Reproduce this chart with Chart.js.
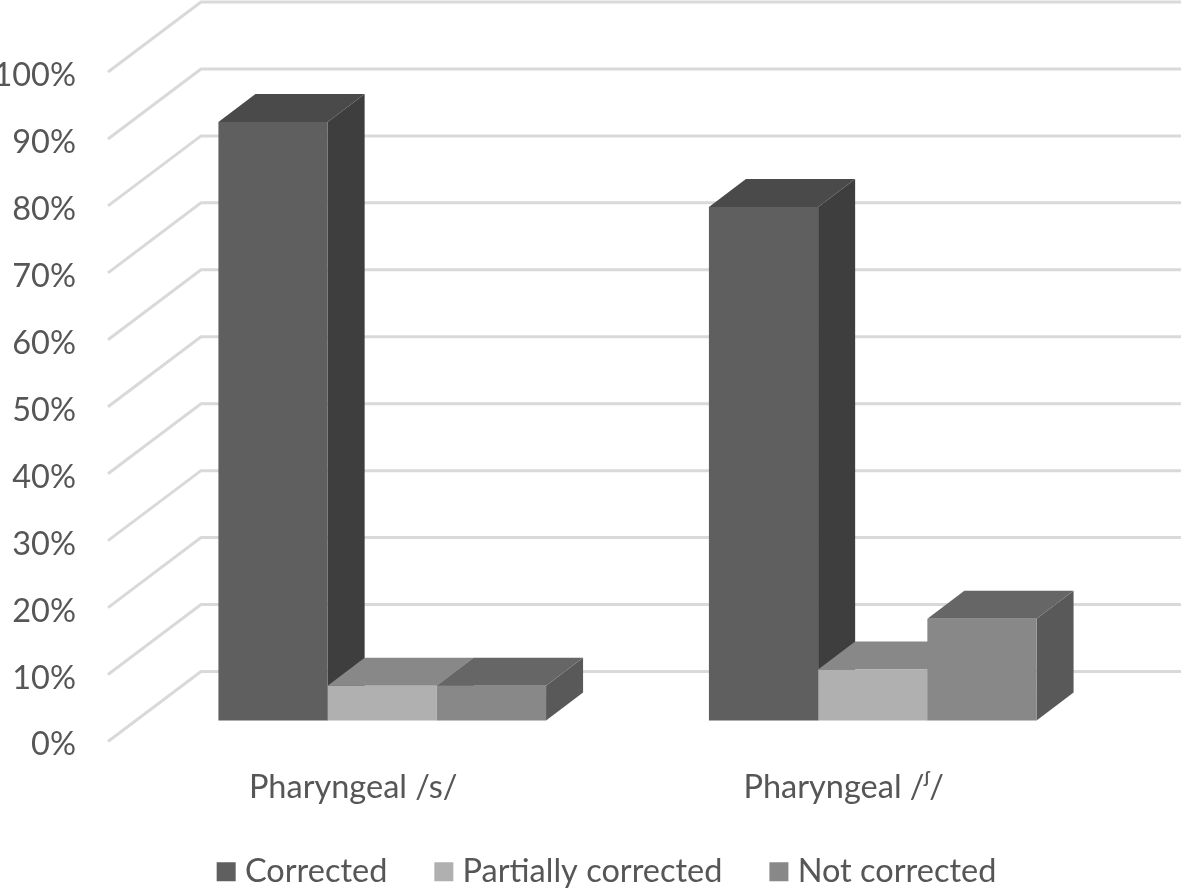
<!DOCTYPE html>
<html>
<head>
<meta charset="utf-8">
<title>Pharyngeal correction</title>
<script src="https://cdn.jsdelivr.net/npm/chart.js@4"></script>
<style>
    html, body { margin: 0; padding: 0; background: #fff; overflow: hidden; }
    canvas { display: block; }
</style>
</head>
<body>
<canvas id="chart" width="1181" height="888"></canvas>
<script>
const categories = ['Pharyngeal /s/', 'Pharyngeal /\u1DB4/'];
const seriesNames = ['Corrected', 'Partially corrected', 'Not corrected'];
const corrected = [89.4, 76.7];
const partiallyCorrected = [5.2, 7.6];
const notCorrected = [5.2, 15.2];
const wallTicks = [0, 10, 20, 30, 40, 50, 60, 70, 80, 90, 100];

const frontColors = ['#5f5f5f', '#b0b0b0', '#888888'];
const topColors = ['#4a4a4a', '#888888', '#666666'];
const sideColors = ['#3e3e3e', '#777777', '#595959'];
const textColor = '#565656';
const fontFamily = "Lato, 'DejaVu Sans', sans-serif";
const fontSize = 32.5;

// the 3D look: bars and walls are pushed back by these offsets
const barDepth = { x: 37, y: 28 };
const wallDepth = { x: 93, y: 70 };
// tick labels sit a little lower than the line they belong to
const labelDrop = 3.5;

const threeD = {
    id: 'threeD',
    afterLayout(chart) {
        // legend is off centre in the original and overlaps the x axis box
        chart.legend.left += 51;
        chart.legend.right += 51;
        chart.legend.top -= 10;
        chart.legend.bottom -= 10;
    },
    beforeDatasetsDraw(chart) {
        const ctx = chart.ctx;
        const wall = chart.scales.wall;

        // gridlines on floor edge + back wall
        ctx.save();
        ctx.strokeStyle = '#d9d9d9';
        ctx.lineWidth = 3;
        wallTicks.forEach(tick => {
            const y = wall.getPixelForValue(tick) - labelDrop;
            const left = wall.right - 29;
            ctx.beginPath();
            ctx.moveTo(left, y);
            ctx.lineTo(left + wallDepth.x, y - wallDepth.y);
            ctx.lineTo(chart.width, y - wallDepth.y);
            ctx.stroke();
        });

        // top and side faces, the fronts are drawn by the bar elements after this
        chart.data.datasets.forEach((dataset, i) => {
            chart.getDatasetMeta(i).data.forEach(bar => {
                const x0 = bar.x - bar.width / 2;
                const x1 = bar.x + bar.width / 2;
                ctx.fillStyle = sideColors[i];
                ctx.beginPath();
                ctx.moveTo(x1, bar.y);
                ctx.lineTo(x1 + barDepth.x, bar.y - barDepth.y);
                ctx.lineTo(x1 + barDepth.x, bar.base - barDepth.y);
                ctx.lineTo(x1, bar.base);
                ctx.closePath();
                ctx.fill();

                ctx.fillStyle = topColors[i];
                ctx.beginPath();
                ctx.moveTo(x0, bar.y);
                ctx.lineTo(x0 + barDepth.x, bar.y - barDepth.y);
                ctx.lineTo(x1 + barDepth.x, bar.y - barDepth.y);
                ctx.lineTo(x1, bar.y);
                ctx.closePath();
                ctx.fill();
            });
        });
        ctx.restore();
    }
};

new Chart(document.getElementById('chart'), {
    type: 'bar',
    data: {
        labels: categories,
        datasets: [
            { label: seriesNames[0], data: corrected, backgroundColor: frontColors[0] },
            { label: seriesNames[1], data: partiallyCorrected, backgroundColor: frontColors[1] },
            { label: seriesNames[2], data: notCorrected, backgroundColor: frontColors[2] }
        ]
    },
    plugins: [threeD],
    options: {
        responsive: false,
        animation: false,
        layout: { padding: { left: 0, right: 63, top: 2, bottom: -20 } },
        datasets: { bar: { categoryPercentage: 0.668, barPercentage: 1 } },
        scales: {
            x: {
                grid: { display: false },
                border: { display: false },
                ticks: {
                    color: textColor,
                    font: { family: fontFamily, size: fontSize },
                    padding: 19,
                    labelOffset: -29,
                    maxRotation: 0
                },
                afterFit(scale) { scale.height = 70; }
            },
            // bars stand on a plane in front of the wall scale
            y: {
                display: false,
                min: -3.14,
                max: 107.32
            },
            wall: {
                position: 'left',
                min: 0.52,
                max: 110.98,
                grid: { display: false },
                border: { display: false },
                afterBuildTicks(scale) {
                    scale.ticks = wallTicks.map(value => ({ value }));
                },
                afterFit(scale) {
                    scale.width = 137;
                    // tick padding would otherwise eat the top of the chart area
                    scale.paddingTop = 0;
                    scale.paddingBottom = 0;
                },
                ticks: {
                    color: textColor,
                    font: { family: fontFamily, size: fontSize },
                    padding: 53,
                    callback: value => value + '%'
                }
            }
        },
        plugins: {
            tooltip: { enabled: false },
            legend: {
                position: 'bottom',
                labels: {
                    color: textColor,
                    font: { family: fontFamily, size: fontSize },
                    boxWidth: 5,
                    boxHeight: 5,
                    padding: 54,
                    // thick border in the same colour makes the square sit closer to the text
                    generateLabels(chart) {
                        return chart.data.datasets.map((dataset, i) => ({
                            text: dataset.label,
                            fillStyle: frontColors[i],
                            strokeStyle: frontColors[i],
                            lineWidth: 14,
                            fontColor: textColor,
                            datasetIndex: i
                        }));
                    }
                }
            }
        }
    }
});
</script>
</body>
</html>
